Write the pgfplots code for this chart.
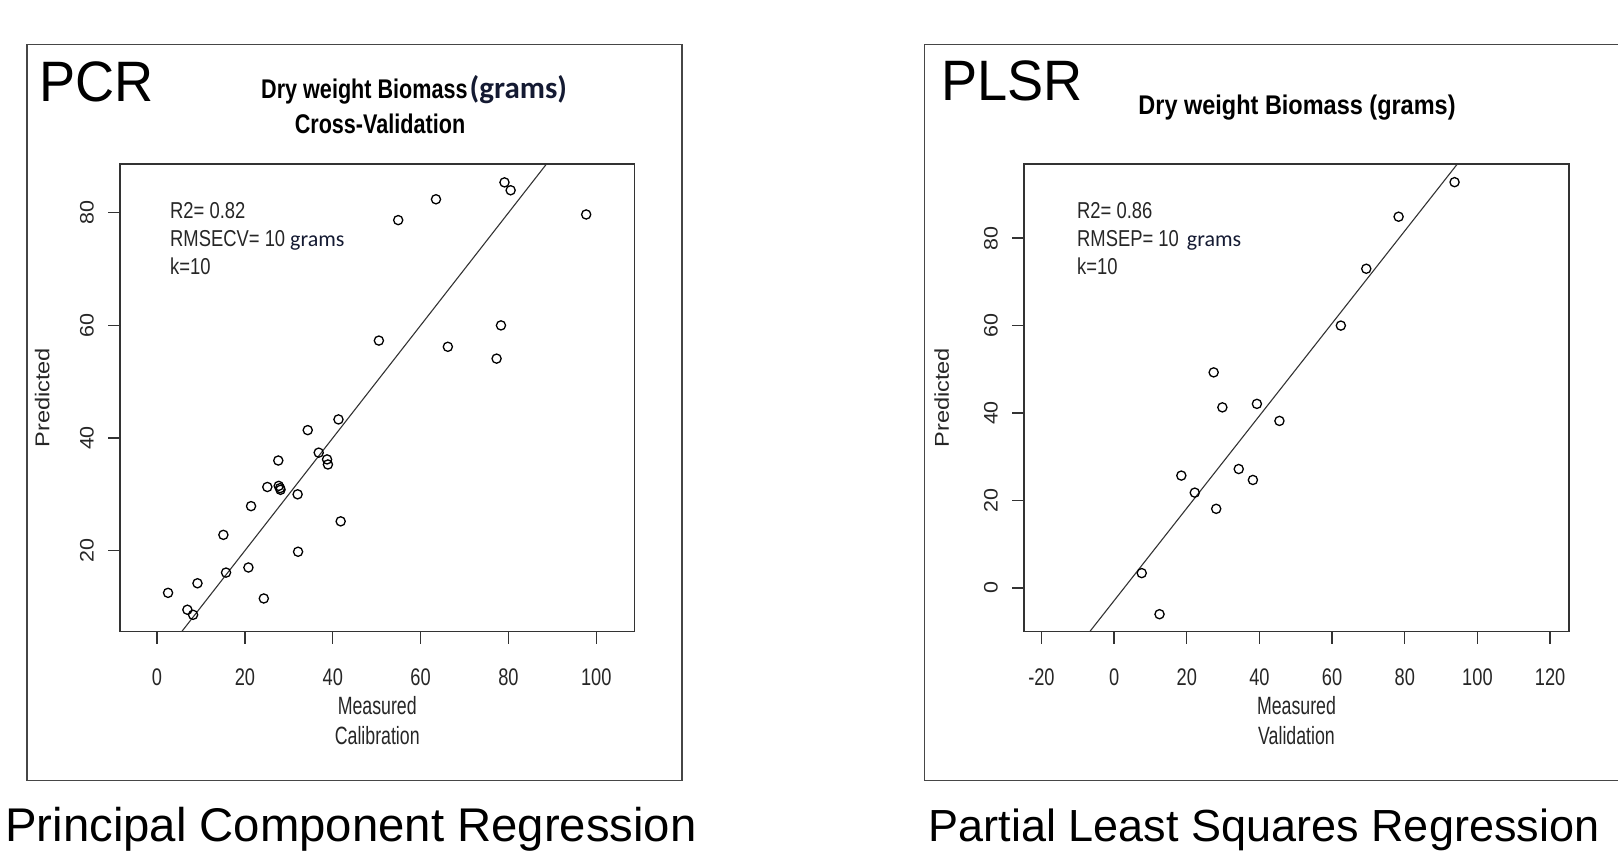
\documentclass[border=0pt]{standalone}
\usepackage{fontspec}
\setmainfont{Liberation Sans}
\newfontfamily\rtick[FakeStretch=0.76]{Liberation Sans}
\newfontfamily\rlab[FakeStretch=0.71]{Liberation Sans}
\newfontfamily\rann[FakeStretch=0.8]{Liberation Sans}
\newfontfamily\rrot[FakeStretch=1.1]{Liberation Sans}
\newfontfamily\rpred[FakeStretch=1.18]{Liberation Sans}
\newfontfamily\rtitle[FakeStretch=0.8]{Liberation Sans}
\newfontfamily\rtitlew[FakeStretch=0.87]{Liberation Sans}
\newfontfamily\bigsans[FakeStretch=0.95]{Liberation Sans}
\newfontfamily\calib{Carlito}
\usepackage{pgfplots}
\usepackage{pgfplotstable}
\pgfplotsset{compat=1.18}
\definecolor{navy}{RGB}{20,26,50}
\definecolor{framegray}{RGB}{70,70,70}

% PCR, calibration (measured vs predicted)
\pgfplotstableread{
x y
2.5 12.5
6.9 9.5
8.2 8.6
9.2 14.2
15.1 22.8
15.7 16.1
20.8 17.0
21.4 27.9
24.3 11.5
25.1 31.3
27.6 36.0
27.7 31.5
28.0 31.1
28.1 30.8
32.0 30.0
32.1 19.8
34.3 41.4
36.8 37.4
38.7 36.2
38.9 35.3
41.3 43.3
41.8 25.2
50.5 57.3
54.9 78.7
63.5 82.4
66.2 56.2
77.3 54.1
78.3 60.0
79.1 85.4
80.5 84.0
97.7 79.7
}\pcr

% PLSR, validation
\pgfplotstableread{
x y
7.6 3.4
12.5 -6.0
18.5 25.7
22.2 21.8
27.4 49.3
28.1 18.1
29.8 41.3
34.3 27.2
38.2 24.7
39.3 42.1
45.5 38.2
62.4 60.0
69.4 73.0
78.3 84.9
93.7 92.8
}\plsr

\pgfplotsset{rplot/.style={
  scale only axis, height=467.9pt, anchor=south west,
  axis line style={draw=black!80, line width=1.6pt},
  tick align=outside, major tick length=12pt, tick pos=left,
  tick style={black!80, line width=1.4pt},
  /pgf/number format/assume math mode=true,
  xticklabel style={font=\rtick\fontsize{24}{24}\selectfont, anchor=center, inner sep=0pt, text=black!85},
  xticklabel shift=34pt,
  yticklabel style={font=\rrot\fontsize{19.5}{19.5}\selectfont, rotate=90, anchor=center, inner sep=0pt, text=black!85},
  yticklabel shift=21pt,
  xlabel style={at={(axis description cs:0.5,-0.1909)}, anchor=center, align=center,
    font=\rlab\fontsize{25}{30}\selectfont, text=black!85},
  ylabel style={at={(axis description cs:-0.151,0.5)}, anchor=center,
    font=\rpred\fontsize{20}{20}\selectfont, text=black!85},
  pts/.style={only marks, mark=o, mark size=4.6pt, mark options={line width=1.3pt, black}},
  fit/.style={no marks, black!80, line width=1.1pt},
}}

\begin{document}
\begin{tikzpicture}[x=1pt,y=1pt]
\useasboundingbox (0,0) rectangle (1618,860);

% panel frames
\draw[framegray, line width=1.8pt] (26.8,79.5) rectangle (682,815.5);
\draw[framegray, line width=1.8pt] (1625,815.5) -- (924.5,815.5) -- (924.5,79.5) -- (1625,79.5);

\begin{axis}[rplot, at={(120pt,228.3pt)}, width=514.5pt,
  xmin=-8.44, xmax=108.7, ymin=5.6, ymax=88.7,
  xtick={0,20,40,60,80,100}, ytick={20,40,60,80},
  xlabel={Measured\\Calibration}, ylabel={Predicted}]
\addplot[fit] coordinates {(-20,-20) (120,120)};
\addplot[pts] table[x=x,y=y] {\pcr};
\end{axis}

\begin{axis}[rplot, at={(1024pt,228.3pt)}, width=545pt,
  xmin=-24.8, xmax=125.2, ymin=-10, ymax=97,
  xtick={-20,0,20,40,60,80,100,120}, ytick={0,20,40,60,80},
  xlabel={Measured\\Validation}, ylabel={Predicted}]
\addplot[fit] coordinates {(-30,-34.61) (130,134.51)};
\addplot[pts] table[x=x,y=y] {\plsr};
\end{axis}

% panel names
\node[anchor=base west, inner sep=0pt, font=\bigsans\fontsize{57}{57}\selectfont] at (39,758.3) {PCR};
\node[anchor=base west, inner sep=0pt, font=\bigsans\fontsize{57}{57}\selectfont] at (941,759) {PLSR};

% titles
\node[anchor=base west, inner sep=0pt] at (261,761)
  {\rtitle\bfseries\fontsize{27}{27}\selectfont Dry weight Biomass\hspace{2pt}{\calib\bfseries\color{navy}\fontsize{31}{31}\selectfont(grams)}};
\node[anchor=base, inner sep=0pt, font=\rtitle\bfseries\fontsize{27}{27}\selectfont] at (380,726) {Cross-Validation};
\node[anchor=base, inner sep=0pt, font=\rtitlew\bfseries\fontsize{27}{27}\selectfont] at (1297,745) {Dry weight Biomass (grams)};

% fit statistics
\begin{scope}[every node/.style={anchor=base west, inner sep=0pt, text=black!85}]
\node[font=\rann\fontsize{23}{23}\selectfont] at (170,641.8) {R2= 0.82};
\node at (170,613.2) {{\rann\fontsize{23}{23}\selectfont RMSECV= 10}\hspace{5pt}{\calib\color{navy}\fontsize{22}{22}\selectfont grams}};
\node[font=\rann\fontsize{23}{23}\selectfont] at (170,585.2) {k=10};
\node[font=\rann\fontsize{23}{23}\selectfont] at (1077,641.8) {R2= 0.86};
\node at (1077,613.2) {{\rann\fontsize{23}{23}\selectfont RMSEP= 10}\hspace{8pt}{\calib\color{navy}\fontsize{22}{22}\selectfont grams}};
\node[font=\rann\fontsize{23}{23}\selectfont] at (1077,585.2) {k=10};
\end{scope}

% captions
\node[anchor=base, inner sep=0pt, font=\fontsize{47.3}{47.3}\selectfont] at (351,19) {Principal Component Regression};
\node[anchor=base, inner sep=0pt, font=\fontsize{45}{45}\selectfont] at (1264,19) {Partial Least Squares Regression};
\end{tikzpicture}
\end{document}
